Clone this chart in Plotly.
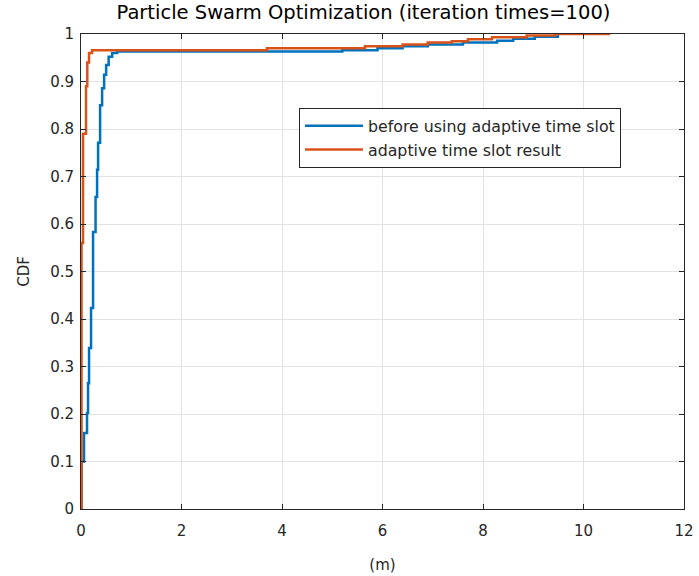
import plotly.graph_objects as go

# before using adaptive time slot (blue) – step breakpoints of the empirical CDF
before_x = [0.01, 0.01, 0.06, 0.12, 0.14, 0.16, 0.20, 0.24, 0.29, 0.32, 0.34, 0.38,
            0.42, 0.46, 0.50, 0.55, 0.62, 0.72, 5.2, 5.9, 6.4, 6.9, 7.6, 8.28,
            8.6, 9.03, 9.49, 9.52]
before_y = [0.0, 0.10, 0.16, 0.202, 0.265, 0.339, 0.423, 0.583, 0.657, 0.714, 0.771, 0.85,
            0.886, 0.914, 0.935, 0.952, 0.960, 0.963, 0.966, 0.970, 0.974, 0.978, 0.982, 0.986,
            0.990, 0.994, 1.0, 1.0]

# adaptive time slot result (orange)
adaptive_x = [0.0, 0.01, 0.04, 0.10, 0.125, 0.16, 0.22, 3.7, 5.65, 6.4, 6.9, 7.38,
              7.7, 8.18, 8.87, 9.43, 10.53]
adaptive_y = [0.0, 0.56, 0.79, 0.89, 0.94, 0.96, 0.966, 0.970, 0.974, 0.978, 0.982, 0.985,
              0.989, 0.993, 0.997, 1.0, 1.0]

x_ticks = [0, 2, 4, 6, 8, 10, 12]
y_ticks = [0, 0.1, 0.2, 0.3, 0.4, 0.5, 0.6, 0.7, 0.8, 0.9, 1]
y_tick_labels = ["0", "0.1", "0.2", "0.3", "0.4", "0.5", "0.6", "0.7", "0.8", "0.9", "1"]

FONT = "DejaVu Sans"
TXT = "#262626"

fig = go.Figure()
fig.add_trace(go.Scatter(x=before_x, y=before_y, mode="lines", line_shape="hv",
                         line=dict(color="#0072BD", width=2.5),
                         name="before using adaptive time slot"))
fig.add_trace(go.Scatter(x=adaptive_x, y=adaptive_y, mode="lines", line_shape="hv",
                         line=dict(color="#D95319", width=2.5),
                         name="adaptive time slot result"))

axis_common = dict(showline=True, linecolor=TXT, linewidth=1, mirror="ticks",
                   ticks="inside", ticklen=5, tickcolor=TXT,
                   showgrid=True, gridcolor="#e3e3e3", gridwidth=1,
                   zeroline=False, automargin=False,
                   tickfont=dict(family=FONT, size=15, color=TXT))

fig.update_xaxes(range=[0, 12], tickvals=x_ticks, ticklabelstandoff=8,
                 title=dict(text="(m)", font=dict(family=FONT, size=15, color=TXT), standoff=20),
                 **axis_common)
fig.update_yaxes(range=[0, 1], tickvals=y_ticks, ticktext=y_tick_labels, ticklabelstandoff=3,
                 title=dict(text="CDF", font=dict(family=FONT, size=15, color=TXT), standoff=16),
                 **axis_common)

fig.update_layout(
    width=699, height=576,
    margin=dict(l=81, r=15, t=34, b=67),
    paper_bgcolor="white", plot_bgcolor="white",
    title=dict(text="Particle Swarm Optimization (iteration times=100)",
               font=dict(family=FONT, size=19.5, color="black"),
               x=0.52, xanchor="center", y=0.99, yanchor="top"),
    legend=dict(x=0.3615, y=0.844, xanchor="left", yanchor="top",
                bgcolor="white", bordercolor=TXT, borderwidth=1,
                font=dict(family=FONT, size=15.8, color=TXT),
                itemwidth=58, tracegroupgap=0),
    showlegend=True,
)

fig.write_html("out.html")
